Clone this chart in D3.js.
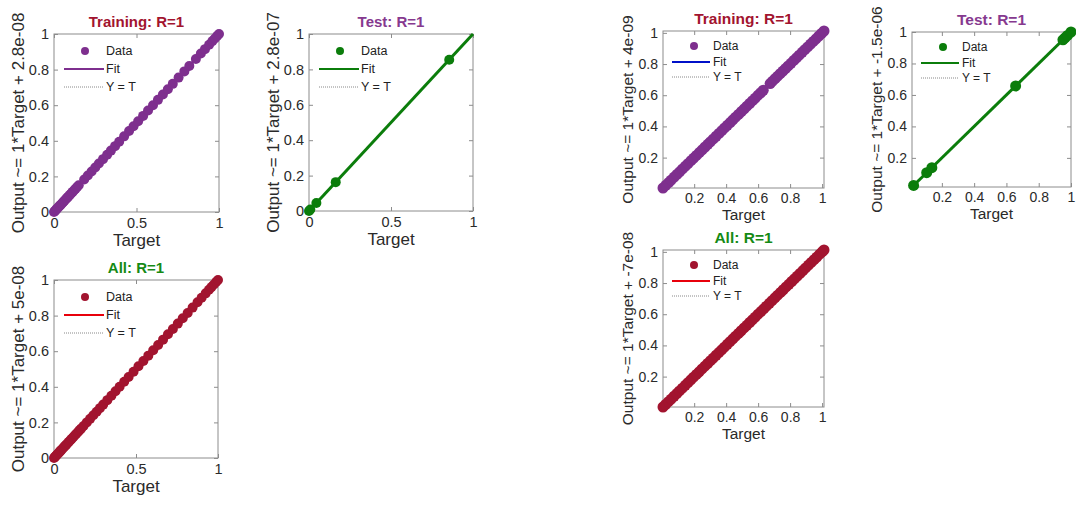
<!DOCTYPE html>
<html>
<head>
<meta charset="utf-8">
<script src="https://cdn.jsdelivr.net/npm/d3@7"></script>
<style>
  html, body { margin: 0; padding: 0; background: #fff; }
  svg { display: block; font-family: "Liberation Sans", Arial, Helvetica, sans-serif; }
</style>
</head>
<body>
<svg id="chart" width="1076" height="510"></svg>
<script>
// Targets of each regression panel (outputs equal targets, R=1)
const trainLeftTargets = [0, 0.005, 0.01, 0.016, 0.022, 0.028, 0.035, 0.041, 0.048, 0.055, 0.062, 0.07,
  0.078, 0.086, 0.095, 0.104, 0.113, 0.122, 0.131, 0.14, 0.15, 0.183, 0.205, 0.228, 0.25, 0.272,
  0.297, 0.322, 0.345, 0.37, 0.395, 0.425, 0.455, 0.482, 0.51, 0.54, 0.57, 0.6, 0.63, 0.66, 0.69,
  0.72, 0.755, 0.79, 0.82, 0.86, 0.89, 0.915, 0.94, 0.96, 0.975, 0.99, 1.0];
const testLeftTargets = [0, 0.008, 0.045, 0.163, 0.855];
const allLeftTargets = [0, 0.005, 0.01, 0.015, 0.021, 0.027, 0.033, 0.04, 0.046, 0.053, 0.06, 0.067,
  0.075, 0.083, 0.091, 0.1, 0.108, 0.117, 0.126, 0.135, 0.145, 0.155, 0.165, 0.18, 0.2, 0.22, 0.24,
  0.26, 0.28, 0.3, 0.325, 0.35, 0.375, 0.4, 0.428, 0.455, 0.485, 0.515, 0.545, 0.575, 0.605, 0.635,
  0.665, 0.695, 0.725, 0.755, 0.785, 0.815, 0.845, 0.875, 0.9, 0.925, 0.945, 0.96, 0.975, 0.99, 1.0];
const trainRightTargets = [0.005, 0.022, 0.04, 0.056, 0.075, 0.092, 0.109, 0.127, 0.145, 0.161, 0.18,
  0.197, 0.214, 0.232, 0.25, 0.268, 0.285, 0.301, 0.32, 0.337, 0.355, 0.373, 0.39, 0.407, 0.425,
  0.442, 0.459, 0.477, 0.495, 0.513, 0.53, 0.547, 0.565, 0.582, 0.6, 0.616, 0.632,
  0.675, 0.69, 0.706, 0.722, 0.738, 0.755, 0.771, 0.788, 0.805, 0.823, 0.84, 0.857, 0.875, 0.892,
  0.91, 0.928, 0.945, 0.962, 0.98, 0.996, 1.012];
const testRightTargets = [0.025, 0.106, 0.138, 0.657, 0.95, 0.963, 0.978, 1.0];
const allRightTargets = [0.005, 0.021, 0.039, 0.056, 0.074, 0.091, 0.108, 0.126, 0.144, 0.161, 0.179,
  0.196, 0.214, 0.231, 0.249, 0.267, 0.284, 0.302, 0.319, 0.337, 0.354, 0.372, 0.389, 0.407, 0.424,
  0.442, 0.459, 0.477, 0.494, 0.512, 0.529, 0.547, 0.564, 0.582, 0.6, 0.617, 0.635, 0.652, 0.67,
  0.687, 0.705, 0.722, 0.74, 0.757, 0.775, 0.792, 0.81, 0.827, 0.845, 0.862, 0.88, 0.897, 0.915,
  0.932, 0.95, 0.967, 0.985, 1.0, 1.012];

// Fit coefficients shown in the axis labels
const slopes = [1, 1, 1, 1, 1, 1];
const intercepts = ['2.8e-08', '2.8e-07', '5e-08', '4e-09', '-1.5e-06', '-7e-08'];
const titles = ['Training: R=1', 'Test: R=1', 'All: R=1', 'Training: R=1', 'Test: R=1', 'All: R=1'];
const leftTicksX = [0, 0.5, 1];
const leftTicksY = [0, 0.2, 0.4, 0.6, 0.8, 1];
const rightTicks = [0.2, 0.4, 0.6, 0.8, 1];
const legendLabels = ['Data', 'Fit', 'Y = T'];

const PURPLE = '#7e2f8e', DARKRED = '#a2142f', GREEN = '#0b7d0b';

const panels = [
  { data: trainLeftTargets, dom: [0, 1], tx: leftTicksX, ty: leftTicksY, box: [54, 34, 165, 178],
    dot: PURPLE, fit: PURPLE, titleColor: DARKRED, big: true },
  { data: testLeftTargets, dom: [0, 1], tx: leftTicksX, ty: leftTicksY, box: [309, 34, 164, 177],
    dot: GREEN, fit: GREEN, titleColor: '#86398f', big: true },
  { data: allLeftTargets, dom: [0, 1], tx: leftTicksX, ty: leftTicksY, box: [54, 280, 164, 178],
    dot: DARKRED, fit: '#e8000b', titleColor: '#158a15', big: true },
  { data: trainRightTargets, dom: [0.005, 1.012], tx: rightTicks, ty: rightTicks, box: [663, 31, 161, 157],
    dot: PURPLE, fit: '#0010c8', titleColor: DARKRED, big: false },
  { data: testRightTargets, dom: [0.015, 1.0], tx: rightTicks, ty: rightTicks, box: [912, 32, 159, 155],
    dot: GREEN, fit: GREEN, titleColor: '#86398f', big: false },
  { data: allRightTargets, dom: [0.005, 1.012], tx: rightTicks, ty: rightTicks, box: [663, 250, 161, 157],
    dot: DARKRED, fit: '#e8000b', titleColor: '#158a15', big: false }
];

const svg = d3.select('#chart');
const fmt = d => String(+d.toFixed(2));

panels.forEach((p, i) => drawPanel(p, i));

function drawPanel(p, i) {
  const [left, top, w, h] = p.box;
  const fs = p.big
    ? { tick: 14.5, label: 17, title: 15, legend: 12.5, tickPad: 6, labelOff: 34, r: 5, rows: [17, 35, 53], lx: [10, 50, 52] }
    : { tick: 14, label: 15.5, title: 15.5, legend: 12, tickPad: 5, labelOff: 32, r: 5.5, rows: [15, 31, 46], lx: [9, 47, 50] };

  const x = d3.scaleLinear().domain(p.dom).range([left, left + w]);
  const y = d3.scaleLinear().domain(p.dom).range([top + h, top]);
  const g = svg.append('g').attr('class', 'panel');

  // Axes with MATLAB-style inner ticks
  const styleAxis = sel => {
    sel.select('.domain').remove();
    sel.selectAll('.tick line').attr('stroke', '#8c8c8c');
    sel.selectAll('.tick text').attr('fill', '#2a2a2a').attr('font-size', fs.tick);
  };
  g.append('g').attr('transform', `translate(0,${top + h})`)
    .call(d3.axisBottom(x).tickValues(p.tx).tickFormat(fmt).tickSize(-4).tickPadding(fs.tickPad))
    .call(styleAxis);
  g.append('g').attr('transform', `translate(${left},0)`)
    .call(d3.axisLeft(y).tickValues(p.ty).tickFormat(fmt).tickSize(-4).tickPadding(5))
    .call(styleAxis);
  g.append('g').attr('transform', `translate(0,${top})`)
    .call(d3.axisTop(x).tickValues(p.tx).tickFormat('').tickSize(-4))
    .call(styleAxis);
  g.append('g').attr('transform', `translate(${left + w},0)`)
    .call(d3.axisRight(y).tickValues(p.ty).tickFormat('').tickSize(-4))
    .call(styleAxis);
  g.selectAll('g').attr('font-family', null);

  g.append('rect').attr('x', left).attr('y', top).attr('width', w).attr('height', h)
    .attr('fill', 'none').attr('stroke', '#8c8c8c').attr('stroke-width', 1);

  // Y = T and fit lines over the axis limits
  const b = +intercepts[i];
  g.append('line')
    .attr('x1', x(p.dom[0])).attr('y1', y(p.dom[0])).attr('x2', x(p.dom[1])).attr('y2', y(p.dom[1]))
    .attr('stroke', '#555').attr('stroke-width', 1).attr('stroke-dasharray', '1,1');
  g.append('line')
    .attr('x1', x(p.dom[0])).attr('y1', y(slopes[i] * p.dom[0] + b))
    .attr('x2', x(p.dom[1])).attr('y2', y(slopes[i] * p.dom[1] + b))
    .attr('stroke', p.fit).attr('stroke-width', 3);

  // Data points (output = target)
  g.selectAll('circle.pt').data(p.data).join('circle').attr('class', 'pt')
    .attr('cx', d => x(d)).attr('cy', d => y(slopes[i] * d + b))
    .attr('r', fs.r).attr('fill', p.dot);

  // Title and labels
  g.append('text').attr('x', left + w / 2).attr('y', top - 7).attr('text-anchor', 'middle')
    .attr('font-size', fs.title).attr('font-weight', 'bold').attr('fill', p.titleColor).text(titles[i]);
  g.append('text').attr('x', left + w / 2).attr('y', top + h + fs.labelOff).attr('text-anchor', 'middle')
    .attr('font-size', fs.label).attr('fill', '#2a2a2a').text('Target');
  g.append('text')
    .attr('transform', `translate(${left - 30},${top + h / 2}) rotate(-90)`)
    .attr('text-anchor', 'middle').attr('font-size', fs.label).attr('fill', '#2a2a2a')
    .text(`Output ~= ${slopes[i]}*Target + ${intercepts[i]}`);

  // Legend
  const lg = g.append('g').attr('transform', `translate(${left},${top})`);
  lg.append('circle').attr('cx', 31).attr('cy', fs.rows[0]).attr('r', 4).attr('fill', p.dot);
  lg.append('line').attr('x1', fs.lx[0]).attr('x2', fs.lx[1]).attr('y1', fs.rows[1]).attr('y2', fs.rows[1])
    .attr('stroke', p.fit).attr('stroke-width', 2.2);
  lg.append('line').attr('x1', fs.lx[0]).attr('x2', fs.lx[1]).attr('y1', fs.rows[2]).attr('y2', fs.rows[2])
    .attr('stroke', '#888').attr('stroke-width', 1).attr('stroke-dasharray', '1,1');
  lg.selectAll('text.lbl').data(legendLabels).join('text').attr('class', 'lbl')
    .attr('x', fs.lx[2]).attr('y', (d, k) => fs.rows[k]).attr('dy', '0.35em')
    .attr('font-size', fs.legend).attr('fill', '#222').text(d => d);
}
</script>
</body>
</html>
